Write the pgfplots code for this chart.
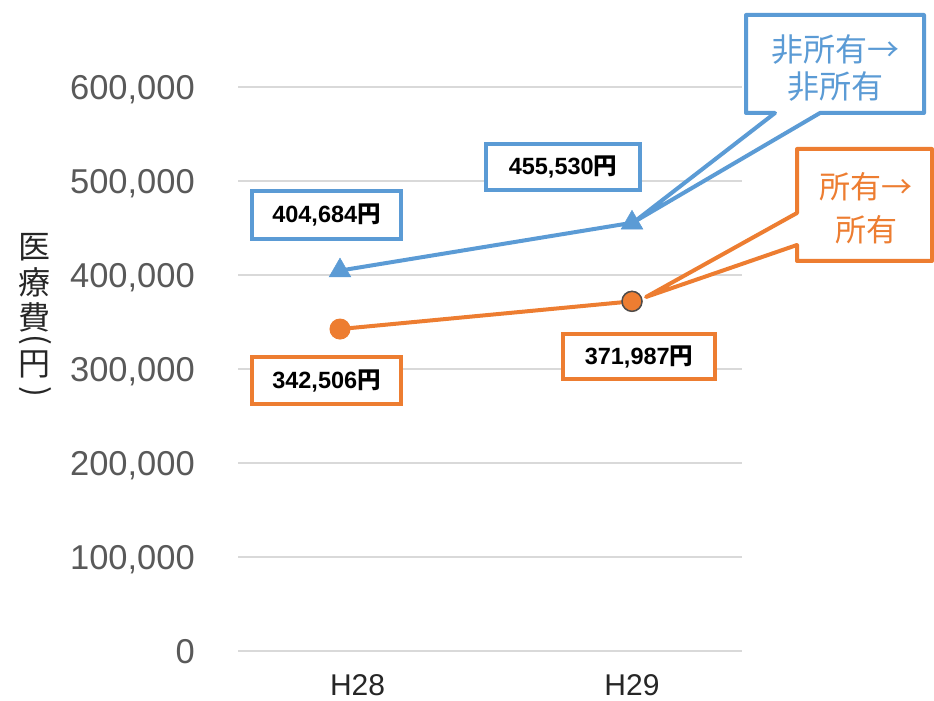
\documentclass[border=0pt]{standalone}
\usepackage{fontspec}
\setmainfont{Liberation Sans}
\newfontfamily\cjk{Noto Sans CJK JP}
\usepackage{pgfplots}
\pgfplotsset{compat=1.18}
\definecolor{bl}{HTML}{5B9BD5}
\definecolor{orr}{HTML}{ED7D31}
\definecolor{gr}{HTML}{D9D9D9}
\definecolor{tk}{HTML}{595959}
\begin{document}
\begin{tikzpicture}[x=1pt,y=1pt]
\useasboundingbox (0,0) rectangle (934,701);
\begin{axis}[
  at={(238pt,50pt)}, anchor=south west, scale only axis,
  width=504pt, height=564pt,
  xmin=-0.3493, xmax=1.3767, ymin=0, ymax=600000,
  axis line style={draw=none}, major tick length=0pt,
  ytick={0,100000,200000,300000,400000,500000,600000},
  ymajorgrids, grid style={gr, line width=2pt},
  xtick={0.06,1}, xticklabels={H28,H29},
  scaled y ticks=false,
  /pgf/number format/assume math mode=true,
  yticklabel style={/pgf/number format/.cd, fixed, 1000 sep={,}, /tikz/.cd,
    font=\fontsize{34.5}{34.5}\selectfont, text=tk, anchor=east, inner sep=0pt,
    text depth=0pt, xshift=-43pt},
  xticklabel style={font=\fontsize{30}{30}\selectfont, text=black!85, anchor=north,
    inner sep=0pt, yshift=-23pt},
  clip=false,
]
\addplot[bl, line width=4pt, mark=triangle*, mark size=12.5pt,
  mark options={fill=bl, draw=bl, line width=0.5pt}] coordinates {(0,404684) (1,455530)};
\addplot[orr, line width=4pt, mark=*, mark size=10pt,
  mark options={fill=orr, draw=orr, line width=1pt}] coordinates {(0,342506) (1,371987)};
\addplot[only marks, mark=*, mark size=10pt,
  mark options={fill=orr, draw=black!70, line width=1.5pt}] coordinates {(1,371987)};
\end{axis}
\begin{scope}[shift={(0pt,701pt)}, x=1pt, y=-1pt]
  % y axis label (vertical)
  \begin{scope}[font=\cjk\fontsize{32}{32}\selectfont, text=black!85]
    \node at (35,247) {医};
    \node at (35,282) {療};
    \node at (35,317) {費};
    \node[rotate=-90] at (35,340) {(};
    \node at (35,364) {円};
    \node[rotate=-90] at (35,392) {)};
  \end{scope}
  % data label boxes
  \draw[bl, line width=4pt, fill=white] (252,191) rectangle (401,239);
  \draw[bl, line width=4pt, fill=white] (486,144) rectangle (640,190);
  \draw[orr, line width=4pt, fill=white] (252,357) rectangle (401,404);
  \draw[orr, line width=4pt, fill=white] (563,334) rectangle (715,379);
  \begin{scope}[font=\fontsize{23.5}{23.5}\selectfont\bfseries, text=black]
    \node at (326.5,215) {404,684{\cjk\bfseries 円}};
    \node at (563,167) {455,530{\cjk\bfseries 円}};
    \node at (326.5,381) {342,506{\cjk\bfseries 円}};
    \node at (639,357) {371,987{\cjk\bfseries 円}};
  \end{scope}
  % callouts
  \draw[bl, line width=4pt, fill=white, line join=round]
    (746,15) -- (924,15) -- (924,113) -- (820,113) -- (634,222) -- (775,113) -- (746,113) -- cycle;
  \node[text=bl, font=\cjk\fontsize{32}{37}\selectfont, align=center] at (835,68) {非所有→\\非所有};
  \draw[orr, line width=4pt, fill=white, line join=round]
    (797,149) -- (932,149) -- (932,261) -- (797,261) -- (797,245) -- (646,297) -- (797,213) -- cycle;
  \node[text=orr, font=\cjk\fontsize{31}{43}\selectfont, align=center] at (866,208) {所有→\\所有};
\end{scope}
\end{tikzpicture}
\end{document}
